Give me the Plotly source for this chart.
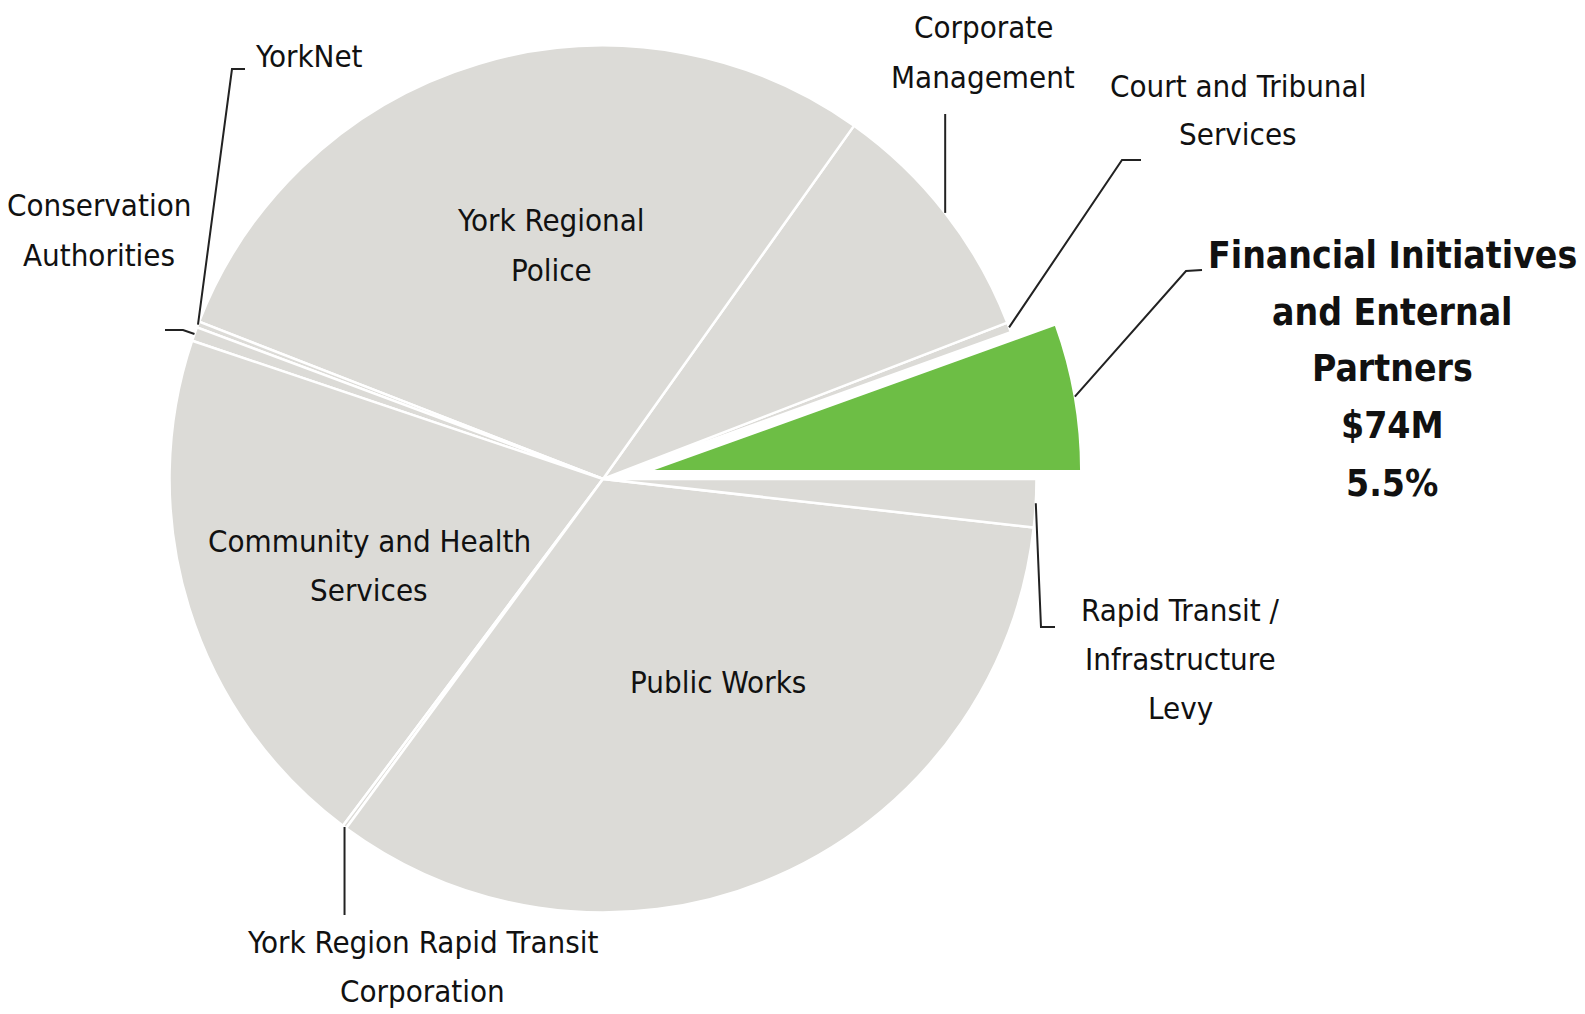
import math
import plotly.graph_objects as go

# ---------------- data ----------------
categories = [
    "Financial Initiatives and Enternal Partners",
    "Court and Tribunal Services",
    "Corporate Management",
    "York Regional Police",
    "YorkNet",
    "Conservation Authorities",
    "Community and Health Services",
    "York Region Rapid Transit Corporation",
    "Public Works",
    "Rapid Transit / Infrastructure Levy",
]
values_musd = [74, 5, 125, 389, 3, 7, 268, 2, 448, 24]
label_lines = [
    ["Financial Initiatives", "and Enternal", "Partners", "$74M", "5.5%"],
    ["Court and Tribunal", "Services"],
    ["Corporate", "Management"],
    ["York Regional", "Police"],
    ["YorkNet"],
    ["Conservation", "Authorities"],
    ["Community and Health", "Services"],
    ["York Region Rapid Transit", "Corporation"],
    ["Public Works"],
    ["Rapid Transit /", "Infrastructure", "Levy"],
]
highlight = "Financial Initiatives and Enternal Partners"

# ---------------- styling / layout ----------------
W, H = 1585, 1014
CX, CY = 603, 479          # pie centre in pixels
RBOX = 479                 # half size of pie box in pixels
PULL = 0.105
R = RBOX / (1 + PULL)      # plotly's resulting radius
GRAY = "#DCDBD7"
GREEN = "#6DBE45"
FONT = "DejaVu Sans Condensed, Liberation Sans Narrow, sans-serif"
REG_SIZE, REG_LH = 31, 49
BOLD_SIZE, BOLD_LH = 37, 57

colors = [GREEN if c == highlight else GRAY for c in categories]
pulls = [PULL if c == highlight else 0 for c in categories]
total = sum(values_musd)

fig = go.Figure(go.Pie(
    labels=categories,
    values=values_musd,
    sort=False,
    direction="counterclockwise",
    # first slice starts at 3 o'clock and grows counter-clockwise
    rotation=90 - 360 * values_musd[0] / total,
    pull=pulls,
    textinfo="none",
    hoverinfo="none",
    marker=dict(colors=colors, line=dict(color="white", width=2.5)),
    domain=dict(x=[(CX - RBOX) / W, (CX + RBOX) / W], y=[1 - (CY + RBOX) / H, 1]),
    showlegend=False,
))

def px2paper(x, y):
    return x / W, 1 - y / H

# mid-angle edge point of each slice, computed from data
edge_pts = {}
cum = 0
for c, v, p in zip(categories, values_musd, pulls):
    mid = math.radians(360 * (cum + v / 2) / total)
    cum += v
    ox = p * R * math.cos(mid)
    oy = -p * R * math.sin(mid)
    edge_pts[c] = (CX + ox + R * math.cos(mid), CY + oy - R * math.sin(mid))

# label placements (pixel centre of text block)
label_pos = {
    "Financial Initiatives and Enternal Partners": (1392, 369, "center"),
    "Court and Tribunal Services": (1238, 110, "center"),
    "Corporate Management": (983, 52, "center"),
    "York Regional Police": (551, 245, "center"),
    "YorkNet": (253, 56, "left"),
    "Conservation Authorities": (99, 230, "center"),
    "Community and Health Services": (369, 565, "center"),
    "York Region Rapid Transit Corporation": (423, 966, "center"),
    "Public Works": (718, 682, "center"),
    "Rapid Transit / Infrastructure Levy": (1180, 659, "center"),
}
leader_route = {
    "Financial Initiatives and Enternal Partners": [(1186, 271), (1202, 270)],
    "Court and Tribunal Services": [(1122, 160), (1141, 160)],
    "Corporate Management": [("same", 114)],
    "YorkNet": [(232, 69), (245, 69)],
    "Conservation Authorities": [(183, 330), (165, 330)],
    "York Region Rapid Transit Corporation": [("same", 915)],
    "Rapid Transit / Infrastructure Levy": [(1041, 627), (1055, 627)],
}

for c, lines in zip(categories, label_lines):
    x, y, anchor = label_pos[c]
    bold = c == highlight
    size = BOLD_SIZE if bold else REG_SIZE
    lh = BOLD_LH if bold else REG_LH
    n = len(lines)
    for i, line in enumerate(lines):
        ly = y + (i - (n - 1) / 2) * lh
        px, py = px2paper(x, ly)
        fig.add_annotation(
            x=px, y=py, xref="paper", yref="paper",
            text=f"<b>{line}</b>" if bold else line, showarrow=False,
            xanchor=anchor, yanchor="middle", align="center",
            font=dict(family=FONT, size=size, color="#111111"),
        )

for c, route in leader_route.items():
    sx, sy = edge_pts[c]
    pts = [(sx, sy)]
    for (x, y) in route:
        pts.append((sx if x == "same" else x, y))
    path = ""
    for i, (x, y) in enumerate(pts):
        qx, qy = px2paper(x, y)
        path += ("M" if i == 0 else " L") + f"{qx:.5f},{qy:.5f}"
    fig.add_shape(type="path", path=path, xref="paper", yref="paper",
                  line=dict(color="#222222", width=2))

fig.update_layout(
    width=W, height=H,
    margin=dict(l=0, r=0, t=0, b=0),
    paper_bgcolor="white", plot_bgcolor="white",
)

fig.write_html("out.html",
               config={"displayModeBar": False},
               post_script="document.body.style.margin='0';document.body.style.overflow='hidden';")
